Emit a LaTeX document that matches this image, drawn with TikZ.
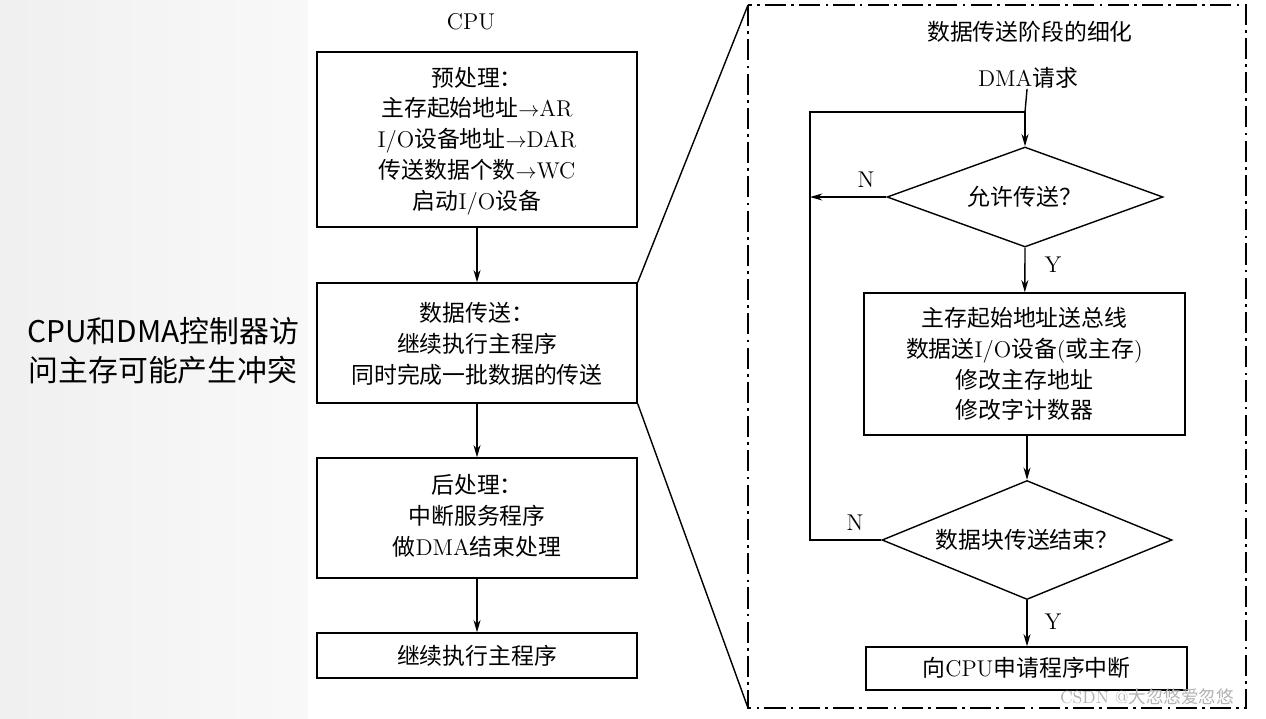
\documentclass[tikz,border=0pt]{standalone}
\usepackage{fontspec}
\newfontfamily\cjk{Noto Sans CJK SC}
\newcommand{\zh}[1]{{\cjk #1}}
\usetikzlibrary{shapes.geometric,arrows.meta}
\begin{document}
\begin{tikzpicture}[x=0.02cm,y=-0.02cm,
  box/.style={draw,thick,inner sep=0pt},
  txt/.style={font=\fontsize{13}{16.5}\selectfont,align=center,inner sep=0pt},
  arr/.style={thick,-{Stealth[length=7pt,width=4pt]}},
  ln/.style={thick}]
\useasboundingbox (0,0) rectangle (1266,718);
\fill[left color=gray!12,right color=gray!5] (0,0) rectangle (308,718);
\node[font=\cjk\fontsize{17}{22}\selectfont,align=center] (side) at (163,351) {CPU和DMA控制器访\\问主存可能产生冲突};
% CPU column
\node[txt] (cpu) at (471,22) {CPU};
\node[box,minimum width=320*0.02cm,minimum height=175*0.02cm] (b1) at (477,139.5) {};
\node[txt] (t1) at (477,141) {\zh{预处理：}\\[1pt]\zh{主存起始地址}$\rightarrow$AR\\[1pt]I/O\zh{设备地址}$\rightarrow$DAR\\[1pt]\zh{传送数据个数}$\rightarrow$WC\\[1pt]\zh{启动}I/O\zh{设备}};
\node[box,minimum width=320*0.02cm,minimum height=120*0.02cm] (b2) at (477,343) {};
\node[txt] (t2) at (477,344) {\zh{数据传送：}\\[1pt]\zh{继续执行主程序}\\[1pt]\zh{同时完成一批数据的传送}};
\node[box,minimum width=320*0.02cm,minimum height=120*0.02cm] (b3) at (477,518) {};
\node[txt] (t3) at (477,516) {\zh{后处理：}\\[1pt]\zh{中断服务程序}\\[1pt]\zh{做}DMA\zh{结束处理}};
\node[box,minimum width=320*0.02cm,minimum height=45*0.02cm] (b4) at (477,655.5) {};
\node[txt] (t4) at (477,656) {\zh{继续执行主程序}};
\draw[arr] (b1) -- (b2);
\draw[arr] (b2) -- (b3);
\draw[arr] (b3) -- (b4);
% frame
\draw[thick,dash pattern=on 12pt off 3pt on 1.5pt off 3pt] (748,5) rectangle (1246,708);
\coordinate (fa) at (748,5);
\coordinate (fb) at (748,708);
\draw[ln] (b2.north east) -- (fa);
\draw[ln] (b2.south east) -- (fb);
\node[txt] (title) at (1030,32) {\zh{数据传送阶段的细化}};
\node[txt] (req) at (1028,78) {DMA\zh{请求}};
\node[draw,thick,diamond,aspect=2.76,minimum width=276*0.02cm,minimum height=100*0.02cm,inner sep=0pt] (d1) at (1025,197) {};
\node[txt] at (1025,197) {\zh{允许传送？}};
\node[box,minimum width=321*0.02cm,minimum height=142*0.02cm] (b5) at (1024.5,364) {};
\node[txt] (t5) at (1024.5,364) {\zh{主存起始地址送总线}\\[1pt]\zh{数据送}I/O\zh{设备}(\zh{或主存})\\[1pt]\zh{修改主存地址}\\[1pt]\zh{修改字计数器}};
\node[draw,thick,diamond,aspect=2.44,minimum width=290*0.02cm,minimum height=119*0.02cm,inner sep=0pt] (d2) at (1027,540) {};
\node[txt] at (1027,540) {\zh{数据块传送结束？}};
\node[box,minimum width=321*0.02cm,minimum height=43*0.02cm] (b6) at (1026.5,668.5) {};
\node[txt] (t6) at (1026.5,668) {\zh{向}CPU\zh{申请程序中断}};
\coordinate (jn) at (1025,112);
\coordinate (lt) at (810,112);
\coordinate (lb) at (810,540);
\coordinate (ln1) at (810,197);
\draw[ln] (req) -- (jn);
\draw[arr] (jn) -- (d1.north);
\draw[arr] (d1.west) -- (ln1);
\draw[arr] (d1.south) -- (b5);
\draw[arr] (b5.south -| d2.north) -- (d2.north);
\draw[arr] (d2.south) -- (b6.north -| d2.south);
\draw[ln] (d2.west) -- (lb) -- (lt) -- (jn);
\node[txt] (n1) at (866,180) {N};
\node[txt] (y1) at (1053,265) {Y};
\node[txt] (n2) at (855,523) {N};
\node[txt] (y2) at (1053,622) {Y};
\node[font=\fontsize{10}{11}\selectfont,text=gray!60,inner sep=0pt] (wm) at (1147,697) {CSDN @\zh{大忽悠爱忽悠}};
\end{tikzpicture}
\end{document}
